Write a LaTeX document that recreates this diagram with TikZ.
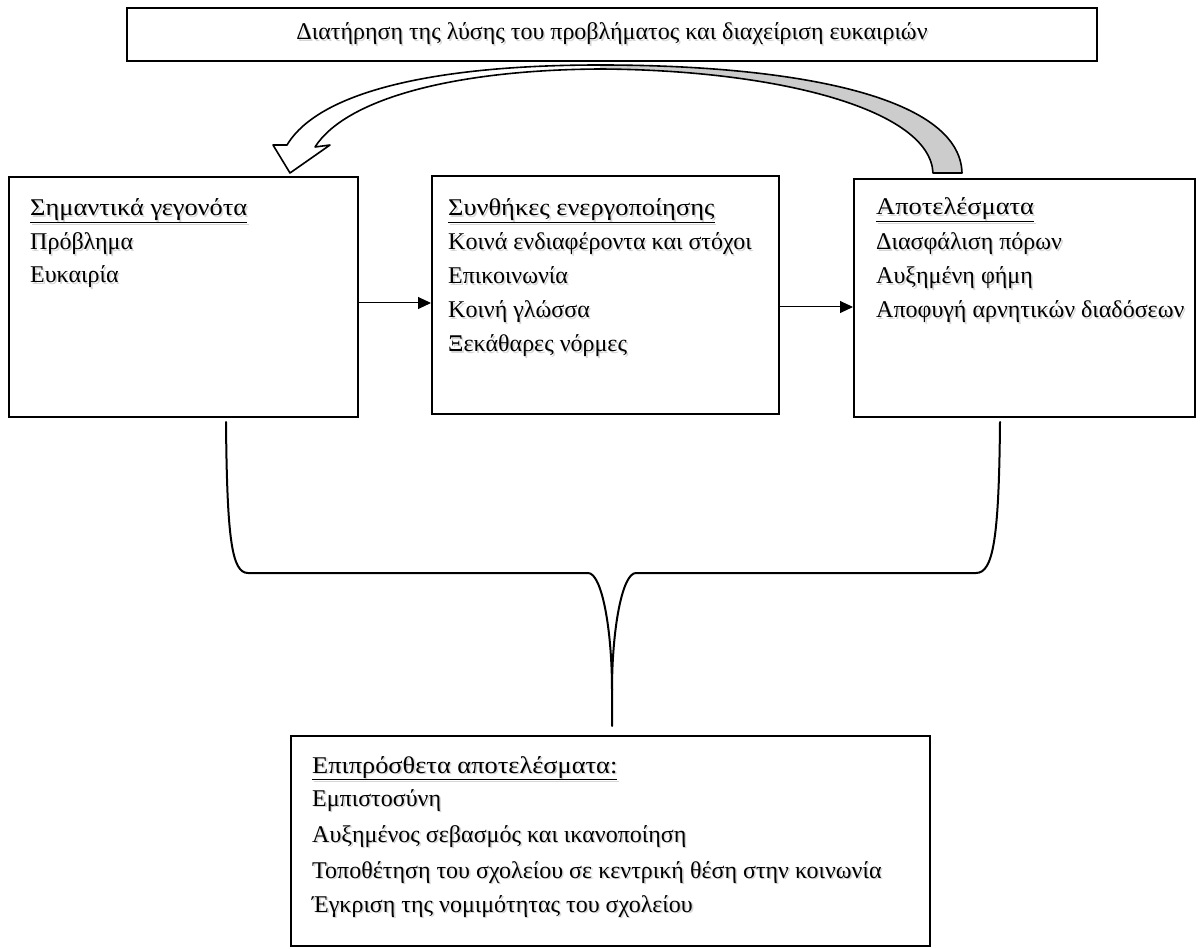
\documentclass[tikz,border=0pt]{standalone}
\usepackage{fontspec}
\setmainfont{Liberation Serif}
\newfontfamily\wideserif[FakeStretch=1.1]{Liberation Serif}
\usetikzlibrary{arrows.meta,calc}

% text with a soft grey drop shadow
\newcommand\shtext[1]{\leavevmode\rlap{\kern1.6pt\raisebox{-1.6pt}{\color{black!16}#1}}#1}
\newcommand\headtext[1]{{\wideserif\shtext{\underline{#1}}}}

\tikzset{
  box/.style={draw=black, line width=2pt, fill=white, inner sep=0pt},
  item/.style={anchor=base west, inner sep=0pt, font=\fontsize{24}{28}\selectfont},
  flow/.style={line width=1pt, -{Triangle[length=13pt,width=12pt]}},
  brace/.style={line width=2pt, line cap=round},
  band/.style={line width=1.6pt, line join=round},
}

\begin{document}
\begin{tikzpicture}[x=1pt,y=-1pt]
\useasboundingbox (0,0) rectangle (1200,949);

% boxes
\node[box, minimum width=970pt, minimum height=53pt] (top) at (612,34.5) {};
\node[box, minimum width=349pt, minimum height=240pt] (ev)  at (183.5,297) {};
\node[box, minimum width=347pt, minimum height=238pt] (cond) at (605.5,295) {};
\node[box, minimum width=341pt, minimum height=238pt] (res) at (1024.5,298) {};
\node[box, minimum width=639pt, minimum height=210pt] (add) at (610.5,841) {};

% texts
\node[font=\fontsize{24}{28}\selectfont, inner sep=0pt] (toptext) at (top) {\shtext{Διατήρηση της λύσης του προβλήματος και διαχείριση ευκαιριών}};

\node[item] (ev0) at (30,216) {\headtext{Σημαντικά γεγονότα}};
\node[item] (ev1) at (30,250) {\shtext{Πρόβλημα}};
\node[item] (ev2) at (30,283) {\shtext{Ευκαιρία}};

\node[item] (c0) at (448,216) {\headtext{Συνθήκες ενεργοποίησης}};
\node[item] (c1) at (448,250) {\shtext{Κοινά ενδιαφέροντα και στόχοι}};
\node[item] (c2) at (448,284) {\shtext{Επικοινωνία}};
\node[item] (c3) at (448,318) {\shtext{Κοινή γλώσσα}};
\node[item] (c4) at (448,352) {\shtext{Ξεκάθαρες νόρμες}};

\node[item] (r0) at (876,215) {\headtext{Αποτελέσματα}};
\node[item] (r1) at (876,250) {\shtext{Διασφάλιση πόρων}};
\node[item] (r2) at (876,284) {\shtext{Αυξημένη φήμη}};
\node[item] (r3) at (876,318) {\shtext{Αποφυγή αρνητικών διαδόσεων}};

\node[item] (a0) at (312,773) {\headtext{Επιπρόσθετα αποτελέσματα:}};
\node[item] (a1) at (312,806) {\shtext{Εμπιστοσύνη}};
\node[item] (a2) at (312,842) {\shtext{Αυξημένος σεβασμός και ικανοποίηση}};
\node[item] (a3) at (312,878) {\shtext{Τοποθέτηση του σχολείου σε κεντρική θέση στην κοινωνία}};
\node[item] (a4) at (312,912) {\shtext{Έγκριση της νομιμότητας του σχολείου}};

% flow arrows
\draw[flow] ([yshift=-6pt]ev.east) -- ([yshift=-6pt]ev.east -| cond.west);
\draw[flow] ([yshift=-12pt]cond.east) -- ([yshift=-12pt]cond.east -| res.west);

% brace joining the outer boxes to the lower box
\coordinate (bl) at ($(ev.south)+(42.5,4)$);
\coordinate (br) at ($(res.south)+(-24.5,4)$);
\coordinate (stem) at ($(add.north)+(1.5,-9)$);
\draw[brace] (bl) .. controls (227,540) and (232,573) .. (248,573) -- (588,573)
  .. controls (602,573) and (612,630) .. (612,690) -- (stem);
\draw[brace] (br) .. controls (999,540) and (993,573) .. (976,573) -- (636,573)
  .. controls (622,573) and (612,630) .. (612,690);

% curved block arrow from the results back to the events
\coordinate (tailout) at (962,173);
\coordinate (tailin) at (933,173);
\coordinate (tip) at (290,173);
\path[save path=\bandpath]
  (tailout) .. controls (960,95) and (790,65) .. (600,65)
  .. controls (440,65) and (320,90) .. (287,145)
  -- (273,145) -- (tip) -- (330,145) -- (315,147)
  .. controls (345,100) and (450,70) .. (600,69)
  .. controls (780,70) and (930,110) .. (tailin) -- cycle;
\fill[white, use path=\bandpath];
\begin{scope}
  \clip (600,0) rectangle (1200,200);
  \fill[black!20, use path=\bandpath];
\end{scope}
\draw[band, use path=\bandpath];
\end{tikzpicture}
\end{document}
